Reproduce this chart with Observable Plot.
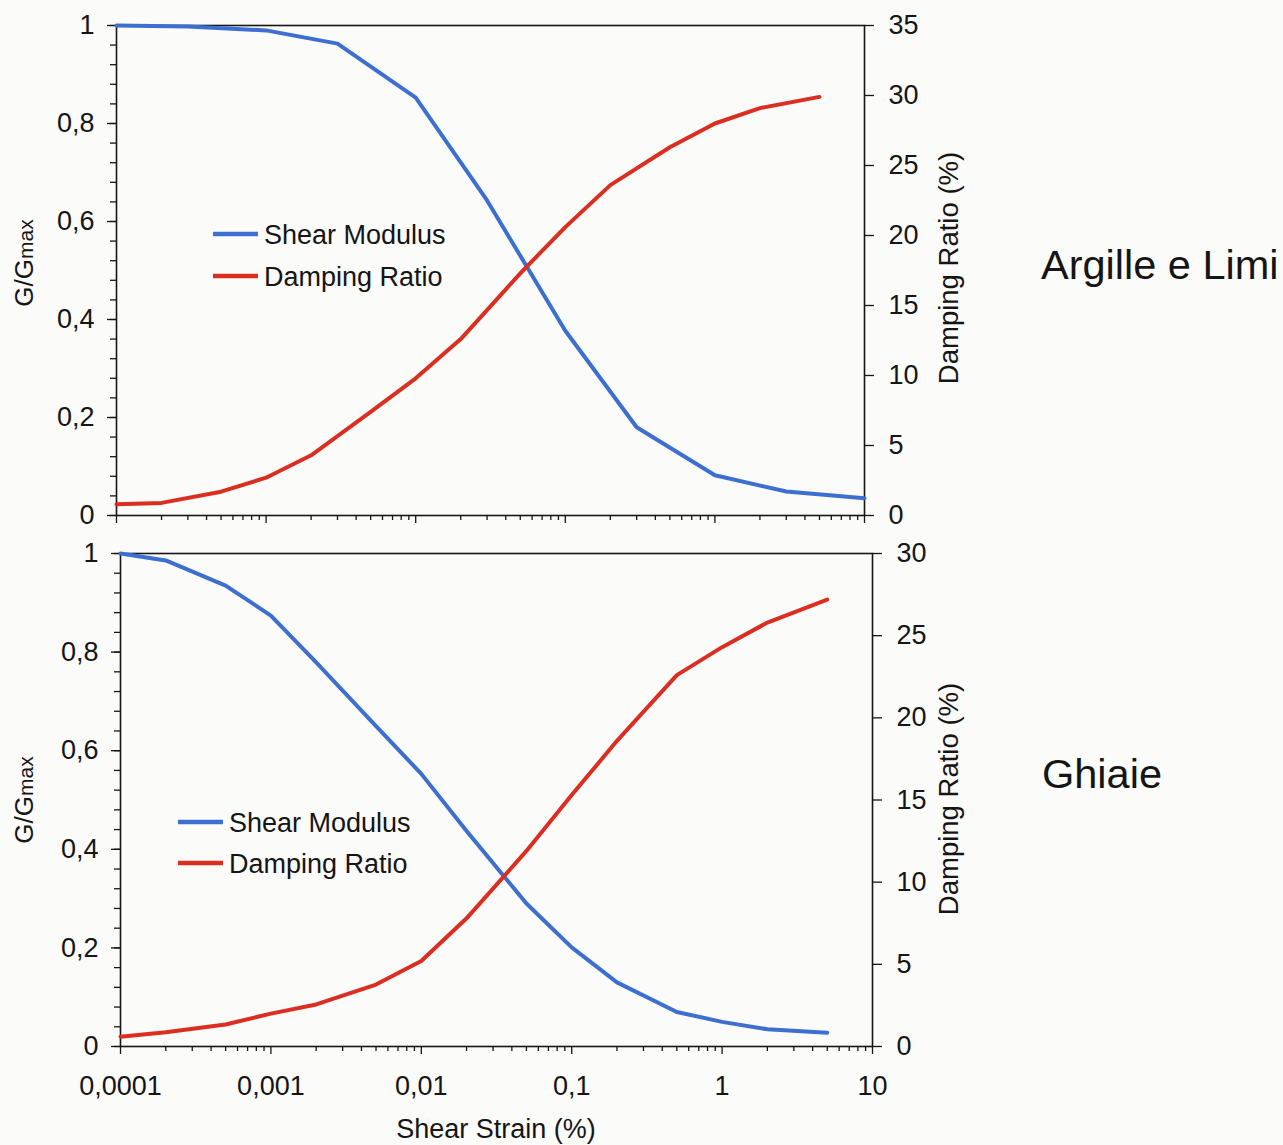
<!DOCTYPE html>
<html>
<head>
<meta charset="utf-8">
<script src="https://cdn.jsdelivr.net/npm/d3@7"></script>
<script src="https://cdn.jsdelivr.net/npm/@observablehq/plot@0.6"></script>
<style>
  html, body { margin: 0; padding: 0; background: #fbfbfa; }
  #page { position: relative; width: 1283px; height: 1145px; overflow: hidden; }
  .layer { position: absolute; left: 0; }
  #annot { position: absolute; left: 0; top: 0; pointer-events: none; }
</style>
</head>
<body>
<div id="page"></div>
<script>
// ---------------- DATA ----------------
// Upper panel: Argille e Limi
const topStrainG = [0.0001, 0.0003, 0.001, 0.003, 0.01, 0.03, 0.1, 0.3, 1, 3, 10];
const topShearModulus = [1.0, 0.998, 0.99, 0.963, 0.853, 0.643, 0.377, 0.18, 0.082, 0.049, 0.035];
const topStrainD = [0.0001, 0.0002, 0.0005, 0.001, 0.002, 0.005, 0.01, 0.02, 0.05, 0.1, 0.2, 0.5, 1, 2, 5];
const topDamping = [0.8, 0.9, 1.7, 2.7, 4.3, 7.4, 9.8, 12.6, 17.3, 20.6, 23.6, 26.3, 28.0, 29.1, 29.9];

// Lower panel: Ghiaie
const botStrain = [0.0001, 0.0002, 0.0005, 0.001, 0.002, 0.005, 0.01, 0.02, 0.05, 0.1, 0.2, 0.5, 1, 2, 5];
const botShearModulus = [1.0, 0.986, 0.935, 0.874, 0.779, 0.65, 0.553, 0.437, 0.29, 0.201, 0.13, 0.07, 0.05, 0.035, 0.028];
const botDamping = [0.6, 0.87, 1.34, 2.0, 2.56, 3.77, 5.2, 7.8, 11.9, 15.3, 18.6, 22.6, 24.3, 25.8, 27.2];

// Ticks
const xTicks = [0.0001, 0.001, 0.01, 0.1, 1, 10];
const xTickLabels = ["0,0001", "0,001", "0,01", "0,1", "1", "10"];
const gTicks = [0, 0.2, 0.4, 0.6, 0.8, 1];
const gTickLabels = ["0", "0,2", "0,4", "0,6", "0,8", "1"];
const topDampTicks = [0, 5, 10, 15, 20, 25, 30, 35];
const botDampTicks = [0, 5, 10, 15, 20, 25, 30];

const seriesNames = ["Shear Modulus", "Damping Ratio"];
const panelTitles = ["Argille e Limi", "Ghiaie"];
const xTitle = "Shear Strain (%)";
const dampTitle = "Damping Ratio (%)";

// ---------------- STYLE ----------------
const FONT = "'Liberation Sans', Arial, Helvetica, sans-serif";
const BLUE = "#3c6fcf";
const RED = "#dc2e20";
const INK = "#151515";

const xMinor = [];
for (let e = -4; e < 1; e++) for (let m = 2; m <= 9; m++) xMinor.push(m * Math.pow(10, e));
const gMinor = d3.range(0, 26).map(i => i / 25);
const xLabelMap = new Map(xTicks.map((v, i) => [v, xTickLabels[i]]));
const gLabelMap = new Map(gTicks.map((v, i) => [v, gTickLabels[i]]));

const page = document.getElementById("page");

function panel(cfg) {
  const W = 1000;
  const common = {
    width: W, height: cfg.height,
    marginLeft: cfg.mL, marginRight: W - cfg.right,
    marginTop: cfg.mT, marginBottom: cfg.height - cfg.bottom,
    style: { background: "transparent", fontFamily: FONT, fontSize: "27px", color: INK, overflow: "visible" }
  };
  const gData = cfg.xG.map((x, i) => ({ x, y: cfg.g[i] }));
  const dData = cfg.xD.map((x, i) => ({ x, y: cfg.d[i] }));

  const plotG = Plot.plot({
    ...common,
    x: { type: "log", domain: [1e-4, 10] },
    y: { domain: [0, 1] },
    marks: [
      Plot.frame({ stroke: INK, strokeWidth: 1.6 }),
      Plot.axisY({ ticks: gMinor, tickSize: 6, tickFormat: () => "", label: null, stroke: INK, strokeWidth: 1.3 }),
      Plot.axisY({ ticks: gTicks, tickSize: 9, tickPadding: 13, tickFormat: d => gLabelMap.get(d), label: null, stroke: INK, strokeWidth: 1.3, fill: INK }),
      Plot.axisX({ ticks: xMinor, tickSize: 5, tickFormat: () => "", label: null, stroke: INK, strokeWidth: 1.3 }),
      Plot.axisX({ ticks: xTicks, tickSize: 8, tickPadding: cfg.xPad, tickFormat: cfg.xLabels ? (d => xLabelMap.get(d)) : (() => ""), label: null, stroke: INK, strokeWidth: 1.3, fill: INK }),
      Plot.line(gData, { x: "x", y: "y", stroke: BLUE, strokeWidth: 4 })
    ]
  });
  const plotD = Plot.plot({
    ...common,
    x: { type: "log", domain: [1e-4, 10], axis: null },
    y: { domain: [0, cfg.dMax] },
    marks: [
      Plot.axisY({ anchor: "right", ticks: cfg.dTicks, tickSize: 9, tickPadding: 15, tickFormat: d => String(d), label: null, stroke: INK, strokeWidth: 1.3, fill: INK }),
      Plot.line(dData, { x: "x", y: "y", stroke: RED, strokeWidth: 4 })
    ]
  });
  for (const p of [plotG, plotD]) {
    p.classList.add("layer");
    p.style.top = cfg.top + "px";
    page.appendChild(p);
  }
}

panel({ top: 0, height: 545, mL: 116, right: 864, mT: 25, bottom: 515,
  xG: topStrainG, g: topShearModulus, xD: topStrainD, d: topDamping,
  dMax: 35, dTicks: topDampTicks, xLabels: false, xPad: 10 });

panel({ top: 540, height: 605, mL: 120, right: 872, mT: 13, bottom: 506,
  xG: botStrain, g: botShearModulus, xD: botStrain, d: botDamping,
  dMax: 30, dTicks: botDampTicks, xLabels: true, xPad: 21 });

// ---------------- ANNOTATIONS ----------------
const svg = d3.select(page).append("svg")
  .attr("id", "annot").attr("width", 1283).attr("height", 1145)
  .style("font-family", FONT).attr("fill", INK);

function legend(x0, y0, dy) {
  [BLUE, RED].forEach((c, i) => {
    const y = y0 + i * dy;
    svg.append("line").attr("x1", x0).attr("x2", x0 + 45).attr("y1", y).attr("y2", y)
      .attr("stroke", c).attr("stroke-width", 4.5);
    svg.append("text").attr("x", x0 + 51).attr("y", y + 10).attr("font-size", 27).text(seriesNames[i]);
  });
}
legend(213, 234, 42);
legend(178, 822, 41);

svg.append("text").attr("x", 1041).attr("y", 279).attr("font-size", 41.5).text(panelTitles[0]);
svg.append("text").attr("x", 1042).attr("y", 788).attr("font-size", 41.5).text(panelTitles[1]);

svg.append("text").attr("x", 496).attr("y", 1138).attr("font-size", 27).attr("text-anchor", "middle").text(xTitle);

function gLabel(cy) {
  const t = svg.append("text").attr("transform", `translate(33,${cy}) rotate(-90)`)
    .attr("text-anchor", "middle").attr("font-size", 26);
  t.append("tspan").text("G/G");
  t.append("tspan").attr("font-size", 21).text("max");
}
gLabel(263);
gLabel(800);

function dLabel(cy) {
  svg.append("text").attr("transform", `translate(958,${cy}) rotate(-90)`)
    .attr("text-anchor", "middle").attr("font-size", 27.5).text(dampTitle);
}
dLabel(268);
dLabel(799);
</script>
</body>
</html>
